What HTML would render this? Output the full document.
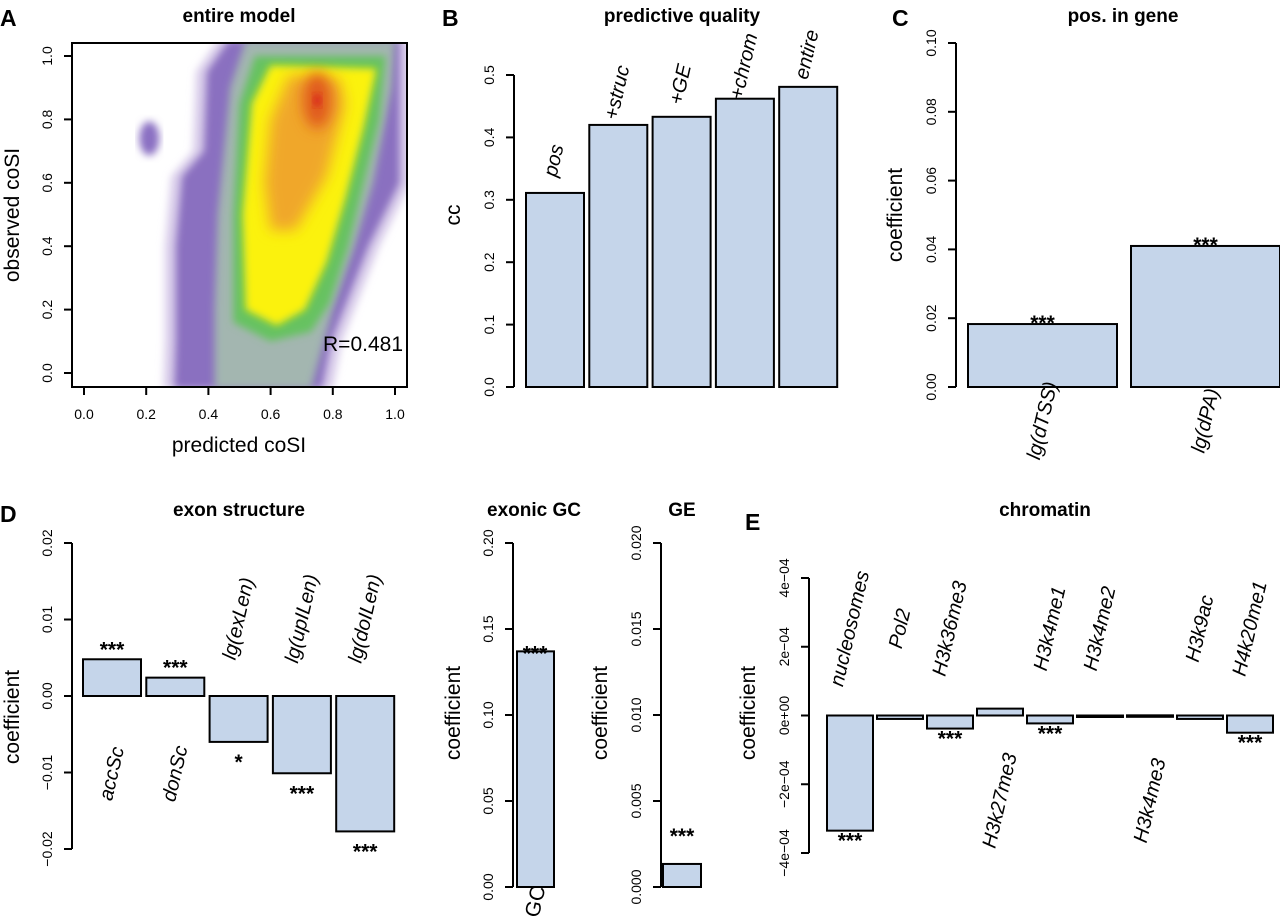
<!DOCTYPE html>
<html><head><meta charset="utf-8"><title>coSI figure</title>
<style>
html,body{margin:0;padding:0;background:#fff;}
svg{display:block;font-family:"Liberation Sans",Arial,sans-serif;}
.tick{font-size:14px;}
.ttl{font-size:19px;font-weight:bold;}
.lett{font-size:23px;font-weight:bold;}
.axt{font-size:21px;}
.lab{font-size:20px;font-style:italic;}
.star{font-size:21px;font-weight:bold;}
</style></head>
<body>
<svg id="fig" width="1280" height="920" viewBox="0 0 1280 920">
<defs>
<filter id="blur" x="-20%" y="-20%" width="140%" height="140%"><feGaussianBlur stdDeviation="4"/></filter>
<filter id="blur2" x="-50%" y="-50%" width="200%" height="200%"><feGaussianBlur stdDeviation="7"/></filter>
<clipPath id="clipA"><rect x="72" y="43" width="335" height="344"/></clipPath>
</defs>
<g id="root"></g>
</svg>
<script>
// ---------- data ----------
const densOuter = [[0.255,-0.05],[0.80,-0.05],[0.83,0.1],[0.87,0.2],[0.95,0.4],[1.05,0.6],[1.05,1.05],[0.43,1.05],[0.36,0.95],[0.35,0.7],[0.28,0.62],[0.26,0.4],[0.26,0.1]];
const densGrey = [[0.42,-0.05],[0.73,-0.05],[0.80,0.2],[0.87,0.4],[0.93,0.6],[0.99,0.9],[1.0,1.05],[0.52,1.05],[0.47,0.9],[0.43,0.5],[0.42,0.2]];
const densGreen = [[0.48,0.16],[0.6,0.10],[0.73,0.13],[0.79,0.22],[0.85,0.4],[0.9,0.6],[0.95,0.8],[0.97,1.0],[0.55,1.0],[0.5,0.85],[0.48,0.5]];
const densYellow = [[0.52,0.2],[0.62,0.15],[0.71,0.2],[0.78,0.35],[0.84,0.55],[0.9,0.78],[0.94,0.96],[0.6,0.97],[0.54,0.85],[0.51,0.5]];
const densOrange = [[0.6,0.45],[0.68,0.45],[0.78,0.62],[0.84,0.85],[0.82,0.93],[0.66,0.94],[0.6,0.8],[0.58,0.6]];
const densIsland = [0.21,0.74];
const densPeak = [0.75,0.86];
const aTicks = [0,0.2,0.4,0.6,0.8,1.0];
const aTickLabels = ["0.0","0.2","0.4","0.6","0.8","1.0"];

const bCats = ["pos","+struc","+GE","+chrom","entire"];
const bVals = [0.311,0.42,0.433,0.462,0.481];
const bTicks = [0,0.1,0.2,0.3,0.4,0.5];
const bTickLabels = ["0.0","0.1","0.2","0.3","0.4","0.5"];

const cCats = ["lg(dTSS)","lg(dPA)"];
const cVals = [0.0183,0.041];
const cStars = ["***","***"];
const cTicks = [0,0.02,0.04,0.06,0.08,0.10];
const cTickLabels = ["0.00","0.02","0.04","0.06","0.08","0.10"];

const dCats = ["accSc","donSc","lg(exLen)","lg(upILen)","lg(doILen)"];
const dVals = [0.0048,0.0024,-0.0060,-0.0101,-0.0177];
const dStars = ["***","***","*","***","***"];
const dTicks = [-0.02,-0.01,0,0.01,0.02];
const dTickLabels = ["\u22120.02","\u22120.01","0.00","0.01","0.02"];

const gcCats = ["GC"];
const gcVals = [0.137];
const gcTicks = [0,0.05,0.10,0.15,0.20];
const gcTickLabels = ["0.00","0.05","0.10","0.15","0.20"];

const geVals = [0.00134];
const geTicks = [0,0.005,0.010,0.015,0.020];
const geTickLabels = ["0.000","0.005","0.010","0.015","0.020"];

const eCats = ["nucleosomes","Pol2","H3k36me3","H3k27me3","H3k4me1","H3k4me2","H3k4me3","H3k9ac","H4k20me1"];
const eVals = [-3.35e-4,-0.1e-4,-0.38e-4,0.2e-4,-0.23e-4,-0.03e-4,0.005e-4,-0.1e-4,-0.5e-4];
const eStars = ["***","","***","","***","","","","***"];
const eLabelSide = ["above","above","above","below","above","above","below","above","above"];
const eTicks = [-4e-4,-2e-4,0,2e-4,4e-4];
const eTickLabels = ["\u22124e\u221204","\u22122e\u221204","0e+00","2e\u221204","4e\u221204"];

// ---------- helpers ----------
const NS = "http://www.w3.org/2000/svg";
const root = document.getElementById("root");
function mk(tag, attrs, parent, txt){
  const e = document.createElementNS(NS, tag);
  for (const k in attrs) e.setAttribute(k, attrs[k]);
  if (txt !== undefined) e.textContent = txt;
  (parent || root).appendChild(e);
  return e;
}
function lin(d0,d1,r0,r1){ return v => r0 + (v-d0)/(d1-d0)*(r1-r0); }
const FILL = "#c5d5ea";

function yAxis(g, x, ticks, labels, y, cls){
  const ax = mk("line",{x1:x,x2:x,y1:y(ticks[0]),y2:y(ticks[ticks.length-1]),stroke:"#000","stroke-width":2},g);
  
  
  ticks.forEach((t,i)=>{
    const tl = mk("line",{x1:x-8,x2:x,y1:y(t),y2:y(t),stroke:"#000","stroke-width":2},g);
    
    
    const tx = mk("text",{x:x-20,y:y(t),"text-anchor":"middle",class:cls||"tick",transform:`rotate(-90 ${x-20} ${y(t)})`},g,labels[i]);
    
    
  });
}
function title(txt,x,y,name){
  const t = mk("text",{x:x,y:y,"text-anchor":"middle",class:"ttl"},root,txt);
  
  
}
function letter(txt,x,y){
  const t = mk("text",{x:x,y:y,class:"lett"},root,txt);
  
  
}
function yTitle(txt,x,cy,name){
  const t = mk("text",{x:x,y:cy,"text-anchor":"middle",class:"axt",transform:`rotate(-90 ${x} ${cy})`},root,txt);
  
  
}
function bars(g, vals, x0, w, step, y, name){
  vals.forEach((v,i)=>{
    const xa = x0 + i*step;
    const y0 = y(0), yv = y(v);
    const r = mk("rect",{x:xa,y:Math.min(y0,yv),width:w,height:Math.max(Math.abs(yv-y0),1.5),fill:FILL,stroke:"#000","stroke-width":2},g);
    
    
  });
}
function rotLabel(g, txt, x, y, cls, name){
  const t = mk("text",{x:x,y:y,"text-anchor":"middle",class:cls,transform:`rotate(-77 ${x} ${y})`},g,txt);
  
  
  return t;
}
function star(g, txt, x, y, name){
  const t = mk("text",{x:x,y:y,"text-anchor":"middle",class:"star"},g,txt);
  
  
}

// ---------- Panel A ----------
(function(){
  const g = mk("g",{});  
  const px = lin(0,1,84,395), py = lin(0,1,373,56);
  const hg = mk("g",{"clip-path":"url(#clipA)"},g);
   
  function poly(pts, fill, filt, name){
    const p = mk("polygon",{points:pts.map(p=>px(p[0])+","+py(p[1])).join(" "),fill:fill,filter:filt},hg);
     
  }
  poly(densOuter,"#d9cdea","url(#blur)","density-outer-halo");
  poly(densOuter.map(p=>[p[0]+(p[0]<0.6?0.035:-0.035),p[1]]),"#8a6fc0","url(#blur)","density-outer");
  const isl = mk("ellipse",{cx:px(densIsland[0]),cy:py(densIsland[1]),rx:10,ry:17,fill:"#8a70c2",filter:"url(#blur)"},hg);
   
  poly(densGrey,"#a3b6b0","url(#blur)","density-grey");
  poly(densGreen,"#66c260","url(#blur)","density-green");
  poly(densYellow,"#fbf207","url(#blur)","density-yellow");
  poly(densOrange,"#f0a72a","url(#blur2)","density-orange");
  const pk = mk("ellipse",{cx:px(densPeak[0]),cy:py(densPeak[1]),rx:14,ry:28,fill:"#e0591e",filter:"url(#blur2)"},hg);
   
  const pk2 = mk("ellipse",{cx:px(densPeak[0]),cy:py(densPeak[1]),rx:4,ry:6,fill:"#d8201f",filter:"url(#blur)"},hg);
   
  const box = mk("rect",{x:72,y:43,width:335,height:344,fill:"none",stroke:"#000","stroke-width":2},g);
   
  aTicks.forEach((t,i)=>{
    const tl = mk("line",{x1:px(t),x2:px(t),y1:387,y2:395,stroke:"#000","stroke-width":2},g);
     
    const tx = mk("text",{x:px(t),y:419,"text-anchor":"middle",class:"tick"},g,aTickLabels[i]);
     
    const yl = mk("line",{x1:64,x2:72,y1:py(t),y2:py(t),stroke:"#000","stroke-width":2},g);
     
    const ty = mk("text",{x:52,y:py(t),"text-anchor":"middle",class:"tick",transform:`rotate(-90 52 ${py(t)})`},g,aTickLabels[i]);
     
  });
  const r = mk("text",{x:403,y:351,"text-anchor":"end",style:"font-size:21px"},g,"R=0.481");
   
  const xt = mk("text",{x:239,y:452,"text-anchor":"middle",class:"axt"},g,"predicted coSI");
   
})();
title("entire model",239,22,"panel-a-title");
letter("A",0,26);
yTitle("observed coSI",19,215,"y-axis-title-a");

// ---------- Panel B ----------
(function(){
  const g = mk("g",{});  
  const y = lin(0,0.5,387,75);
  yAxis(g,514,bTicks,bTickLabels,y);
  bars(g,bVals,526,58,63.3,y,"predictive");
  bVals.forEach((v,i)=>rotLabel(g,bCats[i],526+i*63.3+29+5,y(v)-31,"lab","bar-label-"+i));
})();
title("predictive quality",682,22,"panel-b-title");
letter("B",442,26);
yTitle("cc",460,215,"y-axis-title-b");

// ---------- Panel C ----------
(function(){
  const g = mk("g",{});  
  const y = lin(0,0.1,387,43);
  yAxis(g,956,cTicks,cTickLabels,y);
  bars(g,cVals,968,149,163,y,"pos-in-gene");
  cVals.forEach((v,i)=>{
    const cx = 968+i*163+74.5;
    star(g,cStars[i],cx,y(v)+6,"significance-"+i);
    rotLabel(g,cCats[i],cx+6,422,"lab","bar-label-"+i);
  });
})();
title("pos. in gene",1123,22,"panel-c-title");
letter("C",892,26);
yTitle("coefficient",902,215,"y-axis-title-c");

// ---------- Panel D ----------
(function(){
  const g = mk("g",{});  
  const y = lin(-0.02,0.02,849,543);
  yAxis(g,72,dTicks,dTickLabels,y);
  bars(g,dVals,83,58,63.3,y,"exon-structure");
  dVals.forEach((v,i)=>{
    const cx = 83+i*63.3+29;
    star(g,dStars[i], cx, v>=0 ? y(v)-3 : y(v)+27, "significance-"+i);
    rotLabel(g,dCats[i],cx+6, v>=0 ? 775 : 620,"lab","bar-label-"+i);
  });
})();
title("exon structure",239,516,"panel-d-title");
letter("D",0,522);
yTitle("coefficient",19,717,"y-axis-title-d");

// ---------- Exonic GC ----------
(function(){
  const g = mk("g",{});  
  const y = lin(0,0.2,887,543);
  yAxis(g,513,gcTicks,gcTickLabels,y);
  bars(g,gcVals,517,37,40,y,"gc");
  star(g,"***",535,y(gcVals[0])+9,"significance-gc");
  const t = mk("text",{x:542,y:903,"text-anchor":"middle",style:"font-size:21px",transform:"rotate(-77 542 903)"},g,gcCats[0]);
   
})();
title("exonic GC",534,516,"panel-exonic-gc-title");
yTitle("coefficient",460,713,"y-axis-title-gc");

// ---------- GE ----------
(function(){
  const g = mk("g",{});  
  const y = lin(0,0.02,887,543);
  yAxis(g,661,geTicks,geTickLabels,y);
  bars(g,geVals,663,38,40,y,"ge");
  star(g,"***",682,y(geVals[0])-21,"significance-ge");
})();
title("GE",682,516,"panel-ge-title");
yTitle("coefficient",607,713,"y-axis-title-ge");

// ---------- Panel E ----------
(function(){
  const g = mk("g",{});  
  const y = lin(-4e-4,4e-4,853,578);
  yAxis(g,809,eTicks,eTickLabels,y,"tick");
  bars(g,eVals,827,46,50,y,"chromatin");
  eVals.forEach((v,i)=>{
    const cx = 827+i*50+23;
    if (eStars[i]) star(g,eStars[i],cx,(v>=0?y(v)-3:y(v)+17),"significance-"+i);
    rotLabel(g,eCats[i],cx+6,eLabelSide[i]==="above"?630:802,"lab","bar-label-"+i);
  });
})();
title("chromatin",1045,516,"panel-e-title");
letter("E",745,530);
yTitle("coefficient",755,713,"y-axis-title-e");
</script>
</body></html>
